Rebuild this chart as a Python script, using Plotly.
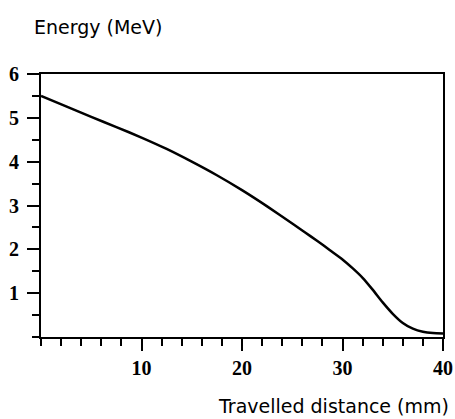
import plotly.graph_objects as go

distance = [0, 2.5, 5, 7.5, 10, 12.5, 15, 17.5, 20, 22.5, 25, 26.25, 27.5, 28.75, 30, 31, 32, 33, 34, 35, 36, 37, 38, 39, 40]
energy = [5.50, 5.26, 5.02, 4.79, 4.55, 4.29, 4.00, 3.69, 3.35, 2.98, 2.59, 2.39, 2.19, 1.98, 1.77, 1.57, 1.35, 1.08, 0.79, 0.53, 0.32, 0.19, 0.12, 0.09, 0.08]

x_ticks = [10, 20, 30, 40]
y_ticks = [1, 2, 3, 4, 5, 6]
x_label = "Travelled distance (mm)"
y_label = "Energy (MeV)"

fig = go.Figure()
fig.add_trace(go.Scatter(
    x=distance, y=energy, mode="lines",
    line=dict(color="black", width=2.5, shape="spline", smoothing=0.6),
    showlegend=False, hoverinfo="skip", cliponaxis=False))

tickfont = dict(family="Liberation Serif", size=20, color="black", weight="bold")

fig.update_xaxes(
    range=[0, 40], tickvals=x_ticks, ticktext=[str(v) for v in x_ticks],
    ticks="outside", ticklen=12, tickwidth=2, tickcolor="black",
    showline=True, linecolor="black", linewidth=2, mirror=True,
    showgrid=False, zeroline=False, tickfont=tickfont, automargin=False,
    minor=dict(dtick=2, tick0=0, ticks="outside", ticklen=7, tickwidth=2, tickcolor="black", showgrid=False),
)
fig.update_yaxes(
    range=[0, 6], tickvals=y_ticks, ticktext=[str(v) for v in y_ticks],
    ticks="outside", ticklen=12, tickwidth=2, tickcolor="black",
    showline=True, linecolor="black", linewidth=2, mirror=True,
    showgrid=False, zeroline=False, tickfont=tickfont, automargin=False,
    ticklabelstandoff=4,
    minor=dict(dtick=0.5, tick0=0, ticks="outside", ticklen=7, tickwidth=2, tickcolor="black", showgrid=False),
)

fig.add_annotation(text=y_label, xref="paper", yref="paper", x=0, y=1.0,
                   xshift=-9, yshift=47, xanchor="left", yanchor="middle", showarrow=False,
                   font=dict(family="DejaVu Sans", size=19, color="black"))
fig.add_annotation(text=x_label, xref="paper", yref="paper", x=1.0, y=0,
                   xshift=8, yshift=-69, xanchor="right", yanchor="middle", showarrow=False,
                   font=dict(family="DejaVu Sans", size=19, color="black"))

fig.update_layout(
    width=455, height=419,
    margin=dict(l=41, r=12, t=74, b=82, autoexpand=False),
    paper_bgcolor="white", plot_bgcolor="white",
)

fig.write_html("out.html", config={"displayModeBar": False},
               post_script="document.body.style.margin='0px';document.body.style.overflow='hidden';")
